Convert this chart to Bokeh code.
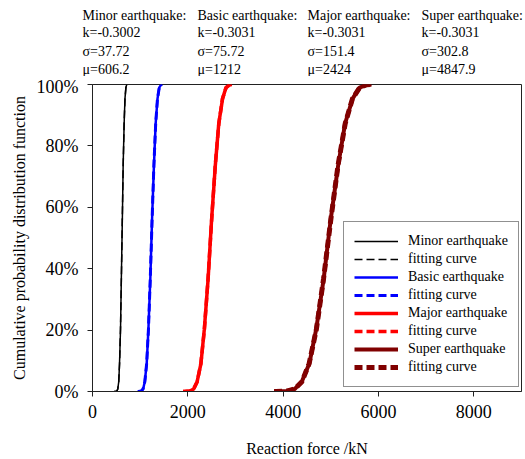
from bokeh.plotting import figure
from bokeh.layouts import column
from bokeh.models import (Label, Legend, LegendItem, FixedTicker, NumeralTickFormatter, Range1d)
from bokeh.embed import file_html
from bokeh.resources import INLINE

# cumulative probability levels
cdf_levels = [0.0, 0.0001, 0.0016, 0.0083, 0.032, 0.091, 0.203, 0.368, 0.559, 0.737, 0.873, 0.954, 0.990, 0.9995, 1.0]

# reaction force (kN) at each level - observed samples
minor_obs = [450, 483, 511, 530, 551, 567, 588, 605, 626, 643, 664, 681, 701, 718, 731]
basic_obs = [950, 963, 1021, 1062, 1097, 1137, 1173, 1213, 1249, 1289, 1325, 1364, 1400, 1440, 1462]
major_obs = [1900, 1926, 2044, 2123, 2195, 2275, 2346, 2426, 2498, 2577, 2649, 2729, 2801, 2880, 2926]
super_obs = [3810, 3852, 4088, 4246, 4390, 4549, 4693, 4851, 4996, 5154, 5299, 5457, 5602, 5759, 5855]

# reaction force (kN) at each level - fitting curves
minor_fit = [450, 482, 512, 531, 550, 568, 587, 606, 625, 644, 663, 682, 700, 719, 732]
basic_fit = [950, 962, 1023, 1061, 1098, 1136, 1174, 1212, 1250, 1288, 1326, 1363, 1401, 1439, 1464]
major_fit = [1900, 1924, 2046, 2121, 2197, 2273, 2348, 2424, 2500, 2575, 2651, 2727, 2803, 2878, 2928]
super_fit = [3810, 3849, 4091, 4242, 4394, 4545, 4697, 4848, 4999, 5151, 5302, 5454, 5605, 5756, 5857]

x_ticks = [0, 2000, 4000, 6000, 8000]
y_ticks = [0, 0.2, 0.4, 0.6, 0.8, 1.0]

series_names = ["Minor earthquake", "Basic earthquake", "Major earthquake", "Super earthquake"]
param_k = ["k=-0.3002", "k=-0.3031", "k=-0.3031", "k=-0.3031"]
param_s = ["\u03c3=37.72", "\u03c3=75.72", "\u03c3=151.4", "\u03c3=302.8"]
param_m = ["\u03bc=606.2", "\u03bc=1212", "\u03bc=2424", "\u03bc=4847.9"]

FONT = "Liberation Serif"

# ---- header with fitted parameters ----
top = figure(width=525, height=76, output_backend="svg", toolbar_location=None,
             x_range=Range1d(0, 525), y_range=Range1d(76, 0),
             min_border=0, x_axis_type=None, y_axis_type=None)
top.frame_align = False
top.outline_line_color = None
top.xgrid.visible = False
top.ygrid.visible = False
col_x = [82, 197, 307, 421]
rows_y = [15, 32, 51, 69]
for i in range(4):
    texts = [series_names[i] + ":", param_k[i], param_s[i], param_m[i]]
    for t, yy in zip(texts, rows_y):
        top.add_layout(Label(x=col_x[i], y=yy, text=t, text_font=FONT, text_font_size="14px",
                             text_baseline="middle", text_align="left", text_color="black"))

# ---- main chart ----
p = figure(width=525, height=383, output_backend="svg", toolbar_location=None,
           x_range=Range1d(0, 9000), y_range=Range1d(0, 1.0),
           min_border_left=92, min_border_right=4, min_border_top=8, min_border_bottom=66)
p.frame_align = False
p.xgrid.visible = False
p.ygrid.visible = False
p.outline_line_color = "#222222"
p.outline_line_width = 1
p.background_fill_color = "white"
p.border_fill_color = "white"

p.xaxis.ticker = FixedTicker(ticks=x_ticks)
p.yaxis.ticker = FixedTicker(ticks=y_ticks)
p.yaxis.formatter = NumeralTickFormatter(format="0%")
for ax in (p.xaxis, p.yaxis):
    ax.major_label_text_font = FONT
    ax.major_label_text_font_size = "18px"
    ax.major_label_text_color = "black"
    ax.axis_label_text_font = FONT
    ax.axis_label_text_font_size = "16px"
    ax.axis_label_text_font_style = "normal"
    ax.axis_label_text_color = "black"
    ax.minor_tick_line_color = None
    ax.major_tick_in = 0
    ax.major_tick_out = 5
    ax.axis_line_color = "#222222"
    ax.major_tick_line_color = "#222222"
p.xaxis.axis_label = "Reaction force /kN"
p.yaxis.axis_label = "Cumulative probability distribution function"
p.xaxis.major_label_standoff = 8
p.yaxis.major_label_standoff = 9
p.xaxis.axis_label_standoff = 19
p.yaxis.axis_label_standoff = 6

colors = ["black", "#0000FF", "#FF0000", "#800000"]
solid_w = [1.5, 2.5, 3.5, 4.0]
dash_w = [1.5, 3.0, 3.5, 5.0]
obs = [minor_obs, basic_obs, major_obs, super_obs]
fit = [minor_fit, basic_fit, major_fit, super_fit]

items = []
for i in range(4):
    r1 = p.line(obs[i], cdf_levels, line_color=colors[i], line_width=solid_w[i])
    r2 = p.line(fit[i], cdf_levels, line_color=colors[i], line_width=dash_w[i], line_dash="8 4")
    items.append(LegendItem(label=series_names[i], renderers=[r1]))
    items.append(LegendItem(label="fitting curve", renderers=[r2]))

legend = Legend(items=items, location=(251, 4), orientation="vertical")
legend.label_text_font = FONT
legend.label_text_font_size = "14px"
legend.label_text_color = "black"
legend.glyph_width = 44
legend.glyph_height = 18
legend.label_height = 18
legend.spacing = 0
legend.padding = 10
legend.margin = 0
legend.label_standoff = 10
legend.border_line_color = "#222222"
legend.border_line_width = 1
legend.background_fill_alpha = 1
p.add_layout(legend, "center")

layout = column(top, p, spacing=0)
open("out.html", "w").write(file_html(layout, INLINE))
